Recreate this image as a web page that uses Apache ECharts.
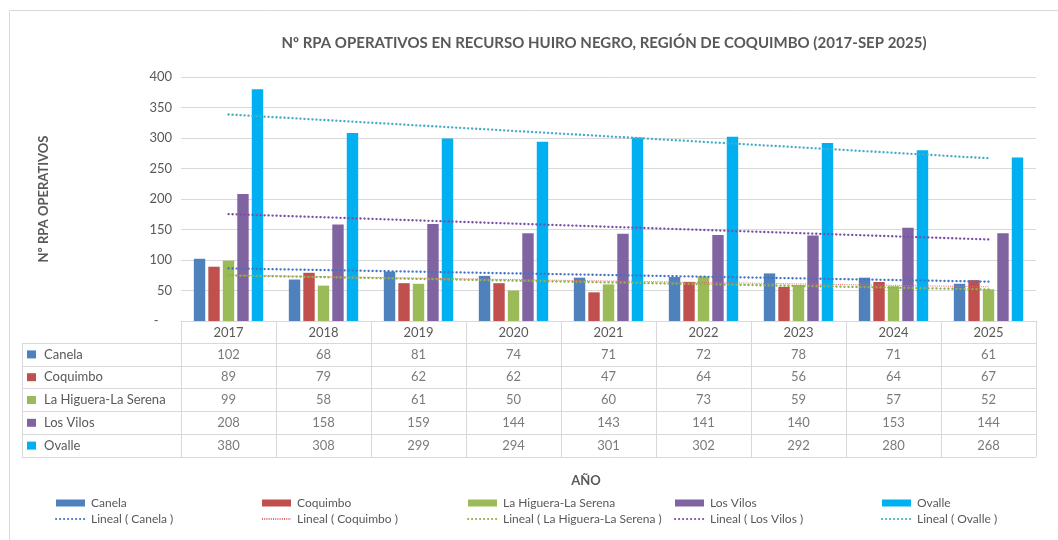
<!DOCTYPE html>
<html>
<head>
<meta charset="utf-8">
<script src="https://cdn.jsdelivr.net/npm/echarts@6/dist/echarts.min.js"></script>
<style>
  html, body { margin: 0; padding: 0; background: #fff; }
  #chart { width: 1058px; height: 540px; }
</style>
</head>
<body>
<div id="chart"></div>
<script>
const years = ['2017', '2018', '2019', '2020', '2021', '2022', '2023', '2024', '2025']
const canela = [102, 68, 81, 74, 71, 72, 78, 71, 61]
const coquimbo = [89, 79, 62, 62, 47, 64, 56, 64, 67]
const higuera = [99, 58, 61, 50, 60, 73, 59, 57, 52]
const losVilos = [208, 158, 159, 144, 143, 141, 140, 153, 144]
const ovalle = [380, 308, 299, 294, 301, 302, 292, 280, 268]
const names = ['Canela', 'Coquimbo', 'La Higuera-La Serena', 'Los Vilos', 'Ovalle']
const values = [canela, coquimbo, higuera, losVilos, ovalle]

const barColors = ['#4F81BD', '#C0504D', '#9BBB59', '#8064A2', '#00B0F0']
const trendColors = ['#4472C4', '#E07070', '#8FB04A', '#7A4FA6', '#4BACC6']
const grey = '#595959'
const lineGrey = '#d9d9d9'
const font = 'Lato'

// Excel style linear trend (least squares over category index)
function trend(arr) {
	const n = arr.length
	const mx = (n - 1) / 2
	const my = arr.reduce((a, b) => a + b, 0) / n
	let sxy = 0
	let sxx = 0
	arr.forEach((y, i) => {
		sxy += (i - mx) * (y - my)
		sxx += (i - mx) * (i - mx)
	})
	const k = sxy / sxx
	return arr.map((y, i) => +(my + k * (i - mx)).toFixed(2))
}

const barSeries = names.map((name, i) => ({
	name: name,
	type: 'bar',
	xAxisIndex: 0,
	yAxisIndex: 0,
	barGap: '27%',
	barCategoryGap: '27%',
	itemStyle: { color: barColors[i] },
	data: values[i]
}))

const trendSeries = names.map((name, i) => ({
	name: 'Lineal ( ' + name + ' )',
	type: 'line',
	xAxisIndex: 0,
	yAxisIndex: 0,
	symbol: 'none',
	z: 5,
	silent: true,
	lineStyle: {
		color: trendColors[i],
		width: i === 1 ? 1 : 2.3,
		type: i === 1 ? [1, 1.2] : [0.2, 3.8],
		cap: i === 1 ? 'butt' : 'round'
	},
	data: trend(values[i])
}))

// table cell values
const cellData = []
values.forEach((arr, r) => {
	arr.forEach((v, c) => cellData.push([c, r, v]))
})

const rich = { t: { color: grey, fontSize: 13, fontFamily: font, padding: [0, 0, 0, 8] } }
barColors.forEach((c, i) => {
	rich['s' + i] = { width: 9, height: 8, backgroundColor: c }
})

const legendLeft = [50, 256, 462, 669, 876]
const legends = names.map((name, i) => ({
	orient: 'vertical',
	left: legendLeft[i],
	top: 492,
	itemWidth: 29,
	itemHeight: 7,
	itemGap: 4,
	selectedMode: false,
	textStyle: { color: grey, fontSize: 12, fontFamily: font, padding: [0, 0, 0, 1] },
	data: [
		{ name: name, icon: 'rect' },
		{ name: 'Lineal ( ' + name + ' )', itemStyle: { opacity: 0 } }
	]
}))

const chart = echarts.init(document.getElementById('chart'), null, { renderer: 'canvas' })
chart.setOption({
	animation: false,
	backgroundColor: '#fff',
	title: [
		{
			text: 'Nº RPA OPERATIVOS EN RECURSO HUIRO NEGRO, REGIÓN DE COQUIMBO (2017-SEP 2025)',
			left: 599,
			top: 31,
			textAlign: 'center',
			textStyle: { color: grey, fontSize: 15, fontWeight: 'bold', fontFamily: font }
		},
		{
			text: 'AÑO',
			left: 581,
			top: 469,
			textAlign: 'center',
			textStyle: { color: grey, fontSize: 13, fontWeight: 'bold', fontFamily: font }
		}
	],
	legend: legends,
	graphic: [{
		type: 'rect',
		shape: { x: 9.5, y: 10.5, width: 1200, height: 700 },
		style: { fill: 'none', stroke: lineGrey, lineWidth: 1 },
		silent: true
	}],
	grid: [
		{ left: 181, right: 22, top: 77, bottom: 219 },
		{ left: 181, right: 22, top: 343, height: 114 },
		{ left: 22, width: 159, top: 343, height: 114 }
	],
	xAxis: [
		{
			type: 'category',
			gridIndex: 0,
			data: years,
			axisLine: { lineStyle: { color: lineGrey } },
			axisTick: { show: true, length: 22, interval: 0, lineStyle: { color: lineGrey } },
			axisLabel: { color: grey, fontSize: 13, fontFamily: font, margin: 5, interval: 0 }
		},
		{
			type: 'category',
			gridIndex: 1,
			data: years,
			axisLine: { show: false },
			axisTick: { show: false },
			axisLabel: { show: false },
			splitLine: { show: true, interval: 0, lineStyle: { color: lineGrey } }
		},
		{
			type: 'value',
			gridIndex: 2,
			min: 0,
			max: 1,
			interval: 1,
			axisLine: { show: false },
			axisTick: { show: false },
			axisLabel: { show: false },
			splitLine: { show: true, lineStyle: { color: lineGrey } }
		}
	],
	yAxis: [
		{
			type: 'value',
			gridIndex: 0,
			min: 0,
			max: 400,
			interval: 50,
			name: 'Nº RPA OPERATIVOS',
			nameLocation: 'middle',
			nameRotate: 90,
			nameGap: 131,
			nameTextStyle: { color: grey, fontSize: 13, fontWeight: 'bold', fontFamily: font },
			axisLine: { show: false },
			axisTick: { show: false },
			axisLabel: {
				color: grey,
				fontSize: 13,
				fontFamily: font,
				margin: 9,
				formatter: (v) => (v === 0 ? '-    ' : v)
			},
			splitLine: { lineStyle: { color: lineGrey } }
		},
		{
			type: 'category',
			gridIndex: 1,
			inverse: true,
			data: names,
			axisLine: { show: false },
			axisTick: { show: false },
			axisLabel: { show: false },
			splitLine: { show: true, interval: 0, lineStyle: { color: lineGrey } }
		},
		{
			type: 'category',
			gridIndex: 2,
			inverse: true,
			data: names,
			axisLine: { show: false },
			axisTick: { show: false },
			axisLabel: {
				inside: true,
				margin: 5,
				align: 'left',
				interval: 0,
				formatter: (v, i) => '{s' + i + '|}{t|' + v + '}',
				rich: rich
			},
			splitLine: { show: true, interval: 0, lineStyle: { color: lineGrey } }
		}
	],
	series: [
		...barSeries,
		...trendSeries,
		{
			type: 'scatter',
			xAxisIndex: 1,
			yAxisIndex: 1,
			symbolSize: 1,
			silent: true,
			itemStyle: { color: 'transparent' },
			label: {
				show: true,
				position: 'inside',
				color: grey,
				fontSize: 13,
				fontFamily: font,
				formatter: (p) => p.value[2]
			},
			data: cellData
		}
	]
})
</script>
</body>
</html>
